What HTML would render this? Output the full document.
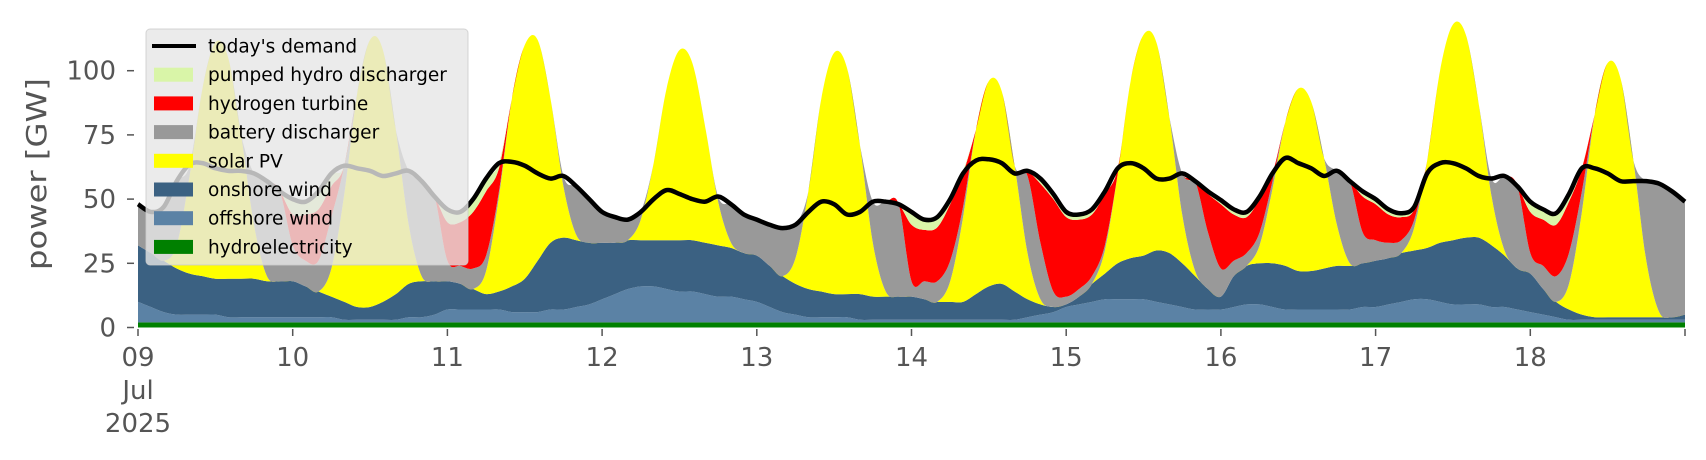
<!DOCTYPE html>
<html><head><meta charset="utf-8">
<style>
html,body{margin:0;padding:0;background:#fff;}
svg{display:block;font-family:"DejaVu Sans","Liberation Sans",sans-serif;}
</style></head>
<body>
<svg id="chart" width="1706" height="460" viewBox="0 0 1706 460" xmlns="http://www.w3.org/2000/svg">
  <g id="areas"></g>
  <g id="demandg"></g>
  <g id="yaxis"></g>
  <g id="xaxis"></g>
  <text transform="translate(46,174) rotate(-90)" text-anchor="middle" font-size="28" fill="#555" textLength="192" lengthAdjust="spacingAndGlyphs">power [GW]</text>
  <g id="legend"></g>
</svg>
<script>
// hours: point i is at hour 2*i from 09 Jul 00:00
const dayLabels = ["09","10","11","12","13","14","15","16","17","18"];
const yTicks = [0,25,50,75,100];
const hydro = [2,2,2,2,2,2,2,2,2,2,2,2, 2,2,2,2,2,2,2,2,2,2,2,2, 2,2,2,2,2,2,2,2,2,2,2,2, 2,2,2,2,2,2,2,2,2,2,2,2, 2,2,2,2,2,2,2,2,2,2,2,2, 2,2,2,2,2,2,2,2,2,2,2,2, 2,2,2,2,2,2,2,2,2,2,2,2, 2,2,2,2,2,2,2,2,2,2,2,2, 2,2,2,2,2,2,2,2,2,2,2,2, 2,2,2,2,2,2,2,2,2,2,2,2, 2];
const offshore = [8,6,4,3,3,3,3,2,2,2,2,2, 2,2,2,2,1,1,1,1,1,2,2,3, 5,5,5,5,5,4,4,4,5,5,6,7, 9,11,13,14,14,13,12,12,11,10,10,9, 8,6,4,3,2,2,2,2,1,1,1,1, 1,1,1,1,1,1,1,1,1,2,3,4, 6,7,8,9,9,9,9,8,7,6,5,5, 5,6,7,7,6,5,5,5,5,5,5,6, 6,7,8,9,9,8,7,7,7,6,6,5, 4,3,2,1,1,1,1,1,1,1,1,1, 1];
const onshore = [22,21,20,18,16,15,14,15,15,15,14,14, 14,12,10,8,7,5,5,7,10,13,14,13, 11,10,8,6,7,10,13,20,26,28,26,24, 22,20,19,18,18,19,20,20,20,20,19,18, 18,16,14,12,11,10,9,9,10,9,9,9, 9,8,7,7,7,10,13,14,11,7,4,2, 1,3,7,10,14,16,17,20,20,17,13,8, 5,12,15,16,17,17,15,15,16,17,17,17, 18,18,19,19,20,23,25,26,26,24,20,16, 15,10,6,4,2,1,1,1,1,1,1,1, 2];
const solar = [0,0,0,9,38,73,92,86,56,21,2,0, 0,0,0,11,42,83,104,98,64,23,2,0, 0,0,0,9,37,73,91,86,56,20,2,0, 0,0,0,8,30,59,74,69,45,17,2,0, 0,0,0,10,38,75,94,88,58,21,2,0, 0,0,0,8,33,64,80,75,49,18,2,0, 0,0,0,9,35,69,86,81,53,19,2,0, 0,0,0,7,29,56,71,66,43,16,1,0, 0,0,0,9,34,67,84,79,52,19,2,0, 0,0,0,10,40,79,99,93,61,22,2,0, 0];
const battery = [16,16,21,25,4,0,0,0,0,20,37,35, 14,10,12,20,11,0,0,0,0,21,37,33, 8,7,8,6,2,0,0,0,0,4,19,17, 12,10,8,3,0,0,0,0,0,2,15,15, 14,16,19,13,0,0,0,0,0,16,35,36, 6,7,8,8,4,0,0,0,0,30,22,6, 3,3,3,2,0,0,0,0,0,16,35,22, 11,6,5,5,3,0,0,0,0,21,32,12, 8,6,5,3,0,0,0,0,0,7,29,32, 8,9,10,12,8,0,0,0,0,31,50,49, 44];
const hydrogen = [0,0,0,0,0,0,0,0,0,0,0,0, 12,18,20,12,0,0,0,0,0,0,0,0, 15,17,22,25,9,0,0,0,0,0,0,0, 0,0,0,0,0,0,0,0,0,0,0,0, 0,0,0,0,0,0,0,0,0,0,0,0, 22,20,21,22,13,0,0,0,0,2,23,36, 31,27,24,20,2,0,0,0,0,0,0,15, 25,18,14,13,3,0,0,0,0,0,0,14, 14,11,9,4,0,0,0,0,0,0,0,0, 16,18,20,20,9,0,0,0,0,0,0,0, 0];
const pumped = [0,0,0,0,0,0,0,0,0,0,0,0, 6,5,7,5,0,0,0,0,0,0,0,0, 5,4,5,5,2,0,0,0,0,0,0,0, 0,0,0,0,0,0,0,0,0,0,0,0, 0,0,0,0,0,0,0,0,0,0,0,0, 5,4,4,3,1,0,0,0,0,0,2,2, 2,2,2,1,0,0,0,0,0,0,0,1, 2,2,2,1,0,0,0,0,0,0,0,2, 2,2,1.5,1,0,0,0,0,0,0,0,0, 4,4,4.5,3,0,0,0,0,0,0,0,0, 0];
const demand = [48,45,47,57,63.5,64,62,61,61,60,57,53, 50,49,53,60,63,62,61,59,60,61,57,51, 46,45,50,58,64,64.5,63,60,58,59,55,50, 45,43,42,45,50,53.5,52,50,49,51,48,44, 42,40,38.7,40,45,49,48,44,45,49,49,48, 45,42,43,50,60,65,65.5,64,60,61,58,52, 45,44,46,53,62,64,62,58,58,60,57,53, 49.6,46,45,51,60,66,64,62,59,61,57,53, 50,46,44.5,47,60,64,64,62,59,58,59,55, 49,46,44.5,52,62,62,60,57,57,57,56,53, 49];

const NS = "http://www.w3.org/2000/svg";
const X0 = 138, X1 = 1685, Y0 = 327.5, PXGW = 2.568;
function xs(h){ return X0 + h * (X1 - X0) / 240; }
function ys(v){ return Y0 - v * PXGW; }
function mk(tag, attrs, parent){ const e = document.createElementNS(NS, tag); for (const k in attrs) e.setAttribute(k, attrs[k]); parent.appendChild(e); return e; }
// Catmull-Rom spline segments through pts (no leading M)
function spline(pts){
  let d = "";
  for (let i = 0; i < pts.length - 1; i++) {
    const p0 = pts[Math.max(0, i-1)], p1 = pts[i], p2 = pts[i+1], p3 = pts[Math.min(pts.length-1, i+2)];
    const c1x = p1[0] + (p2[0]-p0[0])/6, c1y = p1[1] + (p2[1]-p0[1])/6;
    const c2x = p2[0] - (p3[0]-p1[0])/6, c2y = p2[1] - (p3[1]-p1[1])/6;
    d += " C" + c1x.toFixed(2) + "," + c1y.toFixed(2) + " " + c2x.toFixed(2) + "," + c2y.toFixed(2) + " " + p2[0].toFixed(2) + "," + p2[1].toFixed(2);
  }
  return d;
}

const layers = [
  {vals: hydro, color: "#008000", name: "hydroelectricity-area"},
  {vals: offshore, color: "#5b82a5", name: "offshore-wind-area"},
  {vals: onshore, color: "#3b6182", name: "onshore-wind-area"},
  {vals: solar, color: "#ffff00", name: "solar-pv-area"},
  {vals: battery, color: "#999999", name: "battery-discharger-area"},
  {vals: hydrogen, color: "#ff0000", name: "hydrogen-turbine-area"},
  {vals: pumped, color: "#d9f5a8", name: "pumped-hydro-area"}
];
const areasG = document.getElementById("areas");
const n = demand.length;
let base = new Array(n).fill(0);
layers.forEach(L => {
  const top = base.map((b, i) => b + L.vals[i]);
  const up = top.map((v, i) => [xs(2*i), ys(v)]);
  const lo = base.map((v, i) => [xs(2*i), ys(v)]).reverse();
  const d = "M" + up[0][0].toFixed(2) + "," + up[0][1].toFixed(2) + spline(up) +
            " L" + lo[0][0].toFixed(2) + "," + lo[0][1].toFixed(2) + spline(lo) + " Z";
  const p = mk("path", {d: d, fill: L.color, stroke: "none"}, areasG);
  
  
  base = top;
});

const dg = document.getElementById("demandg");
const dpts = demand.map((v, i) => [xs(2*i), ys(v)]);
const dd = "M" + dpts[0][0].toFixed(2) + "," + dpts[0][1].toFixed(2) + spline(dpts);
const dl = mk("path", {d: dd, fill: "none", stroke: "#000", "stroke-width": 4.5, "stroke-linejoin": "round"}, dg);



const ya = document.getElementById("yaxis");
yTicks.forEach(t => {
  const y = ys(t);
  const tk = mk("line", {x1: 127, x2: 134, y1: y, y2: y, stroke: "#555", "stroke-width": 1.5}, ya);
  
  
  const tl = mk("text", {x: 116, y: y + 9, "text-anchor": "end", "font-size": 26, fill: "#555"}, ya);
  tl.textContent = String(t);
  
  
});

const xa = document.getElementById("xaxis");
dayLabels.concat([""]).forEach((lab, k) => {
  const x = xs(24*k);
  const tk = mk("line", {x1: x, x2: x, y1: 329, y2: 336, stroke: "#555", "stroke-width": 1.5}, xa);
  
  
  if (!lab) return;
  const tl = mk("text", {x: x, y: 366, "text-anchor": "middle", "font-size": 26, fill: "#555"}, xa);
  tl.textContent = lab;
  
  
});
[["Jul", 399], ["2025", 432]].forEach(([s, y]) => {
  const t = mk("text", {x: xs(0), y: y, "text-anchor": "middle", "font-size": 26, fill: "#555"}, xa);
  t.textContent = s;
  
  
});

const lg = document.getElementById("legend");
const bg = mk("rect", {x: 146, y: 29, width: 322, height: 236, rx: 4, fill: "#e6e6e6", "fill-opacity": 0.8, stroke: "#cccccc", "stroke-opacity": 0.8}, lg);


const entries = [
  ["today's demand", null], ["pumped hydro discharger", "#d9f5a8"], ["hydrogen turbine", "#ff0000"],
  ["battery discharger", "#999999"], ["solar PV", "#ffff00"], ["onshore wind", "#3b6182"],
  ["offshore wind", "#5b82a5"], ["hydroelectricity", "#008000"]
];
entries.forEach(([label, col], i) => {
  const cy = 46 + i * 28.7;
  const g = mk("g", {}, lg);
  
  
  if (col) mk("rect", {x: 154, y: cy - 7, width: 39, height: 14, fill: col}, g);
  else mk("line", {x1: 152, x2: 196, y1: cy, y2: cy, stroke: "#000", "stroke-width": 4}, g);
  const t = mk("text", {x: 208, y: cy + 6.5, "font-size": 18.5, fill: "#000"}, g);
  t.textContent = label;
});
</script>
</body></html>
